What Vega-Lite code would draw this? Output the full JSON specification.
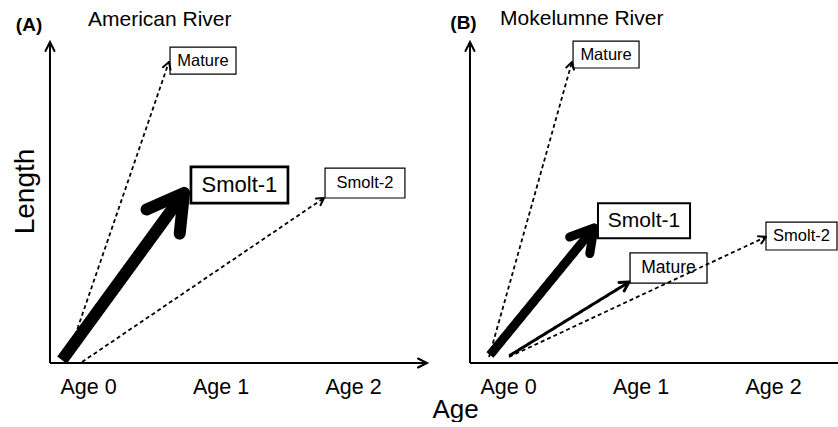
{
  "$schema": "https://vega.github.io/schema/vega-lite/v6.json",
  "padding": 0,
  "spacing": 0,
  "bounds": "flush",
  "config": {
    "view": {"stroke": null},
    "font": "Liberation Sans",
    "text": {"font": "Liberation Sans"},
    "axisX": {"domain": false, "ticks": false, "tickSize": 0, "grid": false, "labelFontSize": 21.5, "labelColor": "black", "labelPadding": 13, "labelFont": "Liberation Sans", "labelFlush": false, "labelOverlap": false, "titleFont": "Liberation Sans", "titleFontSize": 26, "titleFontWeight": "normal", "titleColor": "black", "titleX": 455, "titleY": 54, "titleAlign": "center", "titleBaseline": "alphabetic"},
    "axisY": {"domain": false, "ticks": false, "labels": false, "grid": false, "titleFont": "Liberation Sans", "titleAngle": 270, "titleX": 33, "titleY": 191, "titleAlign": "center", "titleBaseline": "alphabetic", "titleFontSize": 28, "titleFontWeight": "normal", "titleColor": "black"}
  },
  "datasets": {
    "axes": [
      {"panel": "A", "axis": "Length", "fromAge": -0.287, "fromLen": 0, "toAge": -0.287, "toLen": 100, "head": true},
      {"panel": "A", "axis": "Age", "fromAge": -0.287, "fromLen": 0, "toAge": 2.5585, "toLen": 0, "head": true},
      {"panel": "B", "axis": "Length", "fromAge": -0.287, "fromLen": 0, "toAge": -0.287, "toLen": 100, "head": true},
      {"panel": "B", "axis": "Age", "fromAge": -0.287, "fromLen": 0, "toAge": 2.4906, "toLen": 0, "head": false}
    ],
    "pathways": [
      {"panel": "A", "stage": "Smolt-1", "strength": "dominant", "fromAge": -0.196, "fromLen": 0.9, "toAge": 0.725, "toLen": 53.0, "boxLeft": 0.777, "boxRight": 1.509, "boxBottom": 49.8, "boxTop": 61.1},
      {"panel": "A", "stage": "Mature", "strength": "rare", "fromAge": -0.166, "fromLen": 0.3, "toAge": 0.611, "toLen": 93.8, "boxLeft": 0.619, "boxRight": 1.117, "boxBottom": 90.0, "boxTop": 98.4},
      {"panel": "A", "stage": "Smolt-2", "strength": "rare", "fromAge": -0.045, "fromLen": 0.3, "toAge": 1.781, "toLen": 51.4, "boxLeft": 1.789, "boxRight": 2.392, "boxBottom": 51.4, "boxTop": 60.7},
      {"panel": "B", "stage": "Mature", "strength": "rare", "fromAge": -0.143, "fromLen": 1.9, "toAge": 0.483, "toLen": 93.8, "boxLeft": 0.491, "boxRight": 0.989, "boxBottom": 91.9, "boxTop": 100.3},
      {"panel": "B", "stage": "Smolt-1", "strength": "major", "fromAge": -0.136, "fromLen": 2.5, "toAge": 0.649, "toLen": 42.1, "boxLeft": 0.679, "boxRight": 1.374, "boxBottom": 38.9, "boxTop": 49.8},
      {"panel": "B", "stage": "Mature", "strength": "minor", "fromAge": 0.008, "fromLen": 2.2, "toAge": 0.913, "toLen": 25.2, "boxLeft": 0.921, "boxRight": 1.502, "boxBottom": 24.9, "boxTop": 34.3},
      {"panel": "B", "stage": "Smolt-2", "strength": "rare", "fromAge": 0.008, "fromLen": 1.9, "toAge": 1.947, "toLen": 39.3, "boxLeft": 1.947, "boxRight": 2.483, "boxBottom": 35.2, "boxTop": 43.9}
    ],
    "panels": [
      {"panel": "A", "tag": "(A)", "tagAge": -0.445, "tagLen": 103.4, "river": "American River", "riverAge": 0, "riverLen": 105.0},
      {"panel": "B", "tag": "(B)", "tagAge": -0.336, "tagLen": 103.9, "river": "Mokelumne River", "riverAge": -0.06, "riverLen": 105.3}
    ]
  },
  "hconcat": [
    {
      "width": 420,
      "height": 363,
      "layer": [
        {
          "data": {"name": "axes"},
          "transform": [{"filter": "datum.panel === 'A'"}],
          "mark": {"type": "rule", "color": "black", "strokeWidth": 2},
          "encoding": {
            "x": {"field": "fromAge", "type": "quantitative", "scale": {"domain": [-0.6642, 2.5057], "nice": false, "zero": false}, "axis": {"values": [0, 1, 2], "labelExpr": "'Age ' + datum.value", "title": "Age"}},
            "y": {"field": "fromLen", "type": "quantitative", "scale": {"domain": [0, 113.08], "nice": false, "zero": false}, "axis": {"title": "Length"}},
            "x2": {"field": "toAge"},
            "y2": {"field": "toLen"}
          }
        },
        {
          "data": {"name": "axes"},
          "transform": [
            {"filter": "datum.panel === 'A' && datum.head"},
            {"calculate": "atan2((datum.toAge - datum.fromAge) * 132.5, (datum.toLen - datum.fromLen) * 3.21) * 180 / PI", "as": "heading"}
          ],
          "mark": {"type": "point", "shape": "M-0.45,0.9L0,0L0.45,0.9", "filled": false, "color": "black", "stroke": "black", "opacity": 1, "strokeWidth": 2, "size": 400, "strokeCap": "round", "strokeJoin": "miter"},
          "encoding": {
            "x": {"field": "toAge", "type": "quantitative", "scale": {"domain": [-0.6642, 2.5057], "nice": false, "zero": false}, "axis": {"values": [0, 1, 2], "labelExpr": "'Age ' + datum.value", "title": "Age"}},
            "y": {"field": "toLen", "type": "quantitative", "scale": {"domain": [0, 113.08], "nice": false, "zero": false}, "axis": {"title": "Length"}},
            "angle": {"field": "heading", "type": "quantitative", "scale": null}
          }
        },
        {
          "data": {"name": "pathways"},
          "transform": [{"filter": "datum.panel === 'A'"}],
          "mark": {"type": "rect", "fill": "white", "stroke": "black"},
          "encoding": {
            "x": {"field": "boxLeft", "type": "quantitative", "scale": {"domain": [-0.6642, 2.5057], "nice": false, "zero": false}, "axis": {"values": [0, 1, 2], "labelExpr": "'Age ' + datum.value", "title": "Age"}},
            "x2": {"field": "boxRight"},
            "y": {"field": "boxBottom", "type": "quantitative", "scale": {"domain": [0, 113.08], "nice": false, "zero": false}, "axis": {"title": "Length"}},
            "y2": {"field": "boxTop"},
            "strokeWidth": {"condition": [{"test": "datum.strength === 'dominant'", "value": 2.7}, {"test": "datum.strength === 'major'", "value": 2}, {"test": "datum.strength === 'minor'", "value": 1.3}], "value": 1.2},
            "strokeDash": {"condition": {"test": "datum.strength === 'rare'", "value": [2, 1.5]}, "value": [1, 0]}
          }
        },
        {
          "data": {"name": "pathways"},
          "transform": [
            {"filter": "datum.panel === 'A'"},
            {"calculate": "(datum.boxLeft + datum.boxRight) / 2", "as": "midAge"},
            {"calculate": "(datum.boxBottom + datum.boxTop) / 2", "as": "midLen"}
          ],
          "mark": {"type": "text", "color": "black", "align": "center", "baseline": "middle", "font": "Liberation Sans"},
          "encoding": {
            "x": {"field": "midAge", "type": "quantitative", "scale": {"domain": [-0.6642, 2.5057], "nice": false, "zero": false}, "axis": {"values": [0, 1, 2], "labelExpr": "'Age ' + datum.value", "title": "Age"}},
            "y": {"field": "midLen", "type": "quantitative", "scale": {"domain": [0, 113.08], "nice": false, "zero": false}, "axis": {"title": "Length"}},
            "text": {"field": "stage"},
            "size": {"condition": [{"test": "datum.strength === 'dominant'", "value": 22}, {"test": "datum.strength === 'major'", "value": 21}, {"test": "datum.strength === 'minor'", "value": 17.5}], "value": 16.5}
          }
        },
        {
          "data": {"name": "pathways"},
          "transform": [{"filter": "datum.panel === 'A'"}],
          "mark": {"type": "rule", "color": "black", "strokeCap": "butt"},
          "encoding": {
            "x": {"field": "fromAge", "type": "quantitative", "scale": {"domain": [-0.6642, 2.5057], "nice": false, "zero": false}, "axis": {"values": [0, 1, 2], "labelExpr": "'Age ' + datum.value", "title": "Age"}},
            "y": {"field": "fromLen", "type": "quantitative", "scale": {"domain": [0, 113.08], "nice": false, "zero": false}, "axis": {"title": "Length"}},
            "x2": {"field": "toAge"},
            "y2": {"field": "toLen"},
            "strokeWidth": {"condition": [{"test": "datum.strength === 'dominant'", "value": 12}, {"test": "datum.strength === 'major'", "value": 9}, {"test": "datum.strength === 'minor'", "value": 3}], "value": 1.8},
            "strokeDash": {"condition": {"test": "datum.strength === 'rare'", "value": [4, 3]}, "value": [1, 0]}
          }
        },
        {
          "data": {"name": "pathways"},
          "transform": [
            {"filter": "datum.panel === 'A'"},
            {"calculate": "atan2((datum.toAge - datum.fromAge) * 132.5, (datum.toLen - datum.fromLen) * 3.21) * 180 / PI", "as": "heading"}
          ],
          "mark": {"type": "point", "shape": "M-0.5,0.866L0,0L0.5,0.866", "filled": false, "color": "black", "stroke": "black", "opacity": 1, "strokeCap": "round", "strokeJoin": "round"},
          "encoding": {
            "x": {"field": "toAge", "type": "quantitative", "scale": {"domain": [-0.6642, 2.5057], "nice": false, "zero": false}, "axis": {"values": [0, 1, 2], "labelExpr": "'Age ' + datum.value", "title": "Age"}},
            "y": {"field": "toLen", "type": "quantitative", "scale": {"domain": [0, 113.08], "nice": false, "zero": false}, "axis": {"title": "Length"}},
            "angle": {"field": "heading", "type": "quantitative", "scale": null},
            "size": {"condition": [{"test": "datum.strength === 'dominant'", "value": 6724}, {"test": "datum.strength === 'major'", "value": 2704}, {"test": "datum.strength === 'minor'", "value": 400}], "value": 256},
            "strokeWidth": {"condition": [{"test": "datum.strength === 'dominant'", "value": 12}, {"test": "datum.strength === 'major'", "value": 9}, {"test": "datum.strength === 'minor'", "value": 3}], "value": 2}
          }
        },
        {
          "data": {"name": "panels"},
          "transform": [{"filter": "datum.panel === 'A'"}],
          "mark": {"type": "text", "color": "black", "align": "center", "baseline": "alphabetic", "fontWeight": "bold", "fontSize": 19, "font": "Liberation Sans"},
          "encoding": {
            "x": {"field": "tagAge", "type": "quantitative", "scale": {"domain": [-0.6642, 2.5057], "nice": false, "zero": false}, "axis": {"values": [0, 1, 2], "labelExpr": "'Age ' + datum.value", "title": "Age"}},
            "y": {"field": "tagLen", "type": "quantitative", "scale": {"domain": [0, 113.08], "nice": false, "zero": false}, "axis": {"title": "Length"}},
            "text": {"field": "tag"}
          }
        },
        {
          "data": {"name": "panels"},
          "transform": [{"filter": "datum.panel === 'A'"}],
          "mark": {"type": "text", "color": "black", "align": "left", "baseline": "alphabetic", "fontSize": 21, "font": "Liberation Sans"},
          "encoding": {
            "x": {"field": "riverAge", "type": "quantitative", "scale": {"domain": [-0.6642, 2.5057], "nice": false, "zero": false}, "axis": {"values": [0, 1, 2], "labelExpr": "'Age ' + datum.value", "title": "Age"}},
            "y": {"field": "riverLen", "type": "quantitative", "scale": {"domain": [0, 113.08], "nice": false, "zero": false}, "axis": {"title": "Length"}},
            "text": {"field": "river"}
          }
        }
      ]
    },
    {
      "width": 418,
      "height": 363,
      "layer": [
        {
          "data": {"name": "axes"},
          "transform": [{"filter": "datum.panel === 'B'"}],
          "mark": {"type": "rule", "color": "black", "strokeWidth": 2},
          "encoding": {
            "x": {"field": "fromAge", "type": "quantitative", "scale": {"domain": [-0.6642, 2.4906], "nice": false, "zero": false}, "axis": {"values": [0, 1, 2], "labelExpr": "'Age ' + datum.value", "title": null}},
            "y": {"field": "fromLen", "type": "quantitative", "scale": {"domain": [0, 113.08], "nice": false, "zero": false}, "axis": null},
            "x2": {"field": "toAge"},
            "y2": {"field": "toLen"}
          }
        },
        {
          "data": {"name": "axes"},
          "transform": [
            {"filter": "datum.panel === 'B' && datum.head"},
            {"calculate": "atan2((datum.toAge - datum.fromAge) * 132.5, (datum.toLen - datum.fromLen) * 3.21) * 180 / PI", "as": "heading"}
          ],
          "mark": {"type": "point", "shape": "M-0.45,0.9L0,0L0.45,0.9", "filled": false, "color": "black", "stroke": "black", "opacity": 1, "strokeWidth": 2, "size": 400, "strokeCap": "round", "strokeJoin": "miter"},
          "encoding": {
            "x": {"field": "toAge", "type": "quantitative", "scale": {"domain": [-0.6642, 2.4906], "nice": false, "zero": false}, "axis": {"values": [0, 1, 2], "labelExpr": "'Age ' + datum.value", "title": null}},
            "y": {"field": "toLen", "type": "quantitative", "scale": {"domain": [0, 113.08], "nice": false, "zero": false}, "axis": null},
            "angle": {"field": "heading", "type": "quantitative", "scale": null}
          }
        },
        {
          "data": {"name": "pathways"},
          "transform": [{"filter": "datum.panel === 'B'"}],
          "mark": {"type": "rect", "fill": "white", "stroke": "black"},
          "encoding": {
            "x": {"field": "boxLeft", "type": "quantitative", "scale": {"domain": [-0.6642, 2.4906], "nice": false, "zero": false}, "axis": {"values": [0, 1, 2], "labelExpr": "'Age ' + datum.value", "title": null}},
            "x2": {"field": "boxRight"},
            "y": {"field": "boxBottom", "type": "quantitative", "scale": {"domain": [0, 113.08], "nice": false, "zero": false}, "axis": null},
            "y2": {"field": "boxTop"},
            "strokeWidth": {"condition": [{"test": "datum.strength === 'dominant'", "value": 2.7}, {"test": "datum.strength === 'major'", "value": 2}, {"test": "datum.strength === 'minor'", "value": 1.3}], "value": 1.2},
            "strokeDash": {"condition": {"test": "datum.strength === 'rare'", "value": [2, 1.5]}, "value": [1, 0]}
          }
        },
        {
          "data": {"name": "pathways"},
          "transform": [
            {"filter": "datum.panel === 'B'"},
            {"calculate": "(datum.boxLeft + datum.boxRight) / 2", "as": "midAge"},
            {"calculate": "(datum.boxBottom + datum.boxTop) / 2", "as": "midLen"}
          ],
          "mark": {"type": "text", "color": "black", "align": "center", "baseline": "middle", "font": "Liberation Sans"},
          "encoding": {
            "x": {"field": "midAge", "type": "quantitative", "scale": {"domain": [-0.6642, 2.4906], "nice": false, "zero": false}, "axis": {"values": [0, 1, 2], "labelExpr": "'Age ' + datum.value", "title": null}},
            "y": {"field": "midLen", "type": "quantitative", "scale": {"domain": [0, 113.08], "nice": false, "zero": false}, "axis": null},
            "text": {"field": "stage"},
            "size": {"condition": [{"test": "datum.strength === 'dominant'", "value": 22}, {"test": "datum.strength === 'major'", "value": 21}, {"test": "datum.strength === 'minor'", "value": 17.5}], "value": 16.5}
          }
        },
        {
          "data": {"name": "pathways"},
          "transform": [{"filter": "datum.panel === 'B'"}],
          "mark": {"type": "rule", "color": "black", "strokeCap": "butt"},
          "encoding": {
            "x": {"field": "fromAge", "type": "quantitative", "scale": {"domain": [-0.6642, 2.4906], "nice": false, "zero": false}, "axis": {"values": [0, 1, 2], "labelExpr": "'Age ' + datum.value", "title": null}},
            "y": {"field": "fromLen", "type": "quantitative", "scale": {"domain": [0, 113.08], "nice": false, "zero": false}, "axis": null},
            "x2": {"field": "toAge"},
            "y2": {"field": "toLen"},
            "strokeWidth": {"condition": [{"test": "datum.strength === 'dominant'", "value": 12}, {"test": "datum.strength === 'major'", "value": 9}, {"test": "datum.strength === 'minor'", "value": 3}], "value": 1.8},
            "strokeDash": {"condition": {"test": "datum.strength === 'rare'", "value": [4, 3]}, "value": [1, 0]}
          }
        },
        {
          "data": {"name": "pathways"},
          "transform": [
            {"filter": "datum.panel === 'B'"},
            {"calculate": "atan2((datum.toAge - datum.fromAge) * 132.5, (datum.toLen - datum.fromLen) * 3.21) * 180 / PI", "as": "heading"}
          ],
          "mark": {"type": "point", "shape": "M-0.5,0.866L0,0L0.5,0.866", "filled": false, "color": "black", "stroke": "black", "opacity": 1, "strokeCap": "round", "strokeJoin": "round"},
          "encoding": {
            "x": {"field": "toAge", "type": "quantitative", "scale": {"domain": [-0.6642, 2.4906], "nice": false, "zero": false}, "axis": {"values": [0, 1, 2], "labelExpr": "'Age ' + datum.value", "title": null}},
            "y": {"field": "toLen", "type": "quantitative", "scale": {"domain": [0, 113.08], "nice": false, "zero": false}, "axis": null},
            "angle": {"field": "heading", "type": "quantitative", "scale": null},
            "size": {"condition": [{"test": "datum.strength === 'dominant'", "value": 6724}, {"test": "datum.strength === 'major'", "value": 2704}, {"test": "datum.strength === 'minor'", "value": 400}], "value": 256},
            "strokeWidth": {"condition": [{"test": "datum.strength === 'dominant'", "value": 12}, {"test": "datum.strength === 'major'", "value": 9}, {"test": "datum.strength === 'minor'", "value": 3}], "value": 2}
          }
        },
        {
          "data": {"name": "panels"},
          "transform": [{"filter": "datum.panel === 'B'"}],
          "mark": {"type": "text", "color": "black", "align": "center", "baseline": "alphabetic", "fontWeight": "bold", "fontSize": 19, "font": "Liberation Sans"},
          "encoding": {
            "x": {"field": "tagAge", "type": "quantitative", "scale": {"domain": [-0.6642, 2.4906], "nice": false, "zero": false}, "axis": {"values": [0, 1, 2], "labelExpr": "'Age ' + datum.value", "title": null}},
            "y": {"field": "tagLen", "type": "quantitative", "scale": {"domain": [0, 113.08], "nice": false, "zero": false}, "axis": null},
            "text": {"field": "tag"}
          }
        },
        {
          "data": {"name": "panels"},
          "transform": [{"filter": "datum.panel === 'B'"}],
          "mark": {"type": "text", "color": "black", "align": "left", "baseline": "alphabetic", "fontSize": 21, "font": "Liberation Sans"},
          "encoding": {
            "x": {"field": "riverAge", "type": "quantitative", "scale": {"domain": [-0.6642, 2.4906], "nice": false, "zero": false}, "axis": {"values": [0, 1, 2], "labelExpr": "'Age ' + datum.value", "title": null}},
            "y": {"field": "riverLen", "type": "quantitative", "scale": {"domain": [0, 113.08], "nice": false, "zero": false}, "axis": null},
            "text": {"field": "river"}
          }
        }
      ]
    }
  ]
}
